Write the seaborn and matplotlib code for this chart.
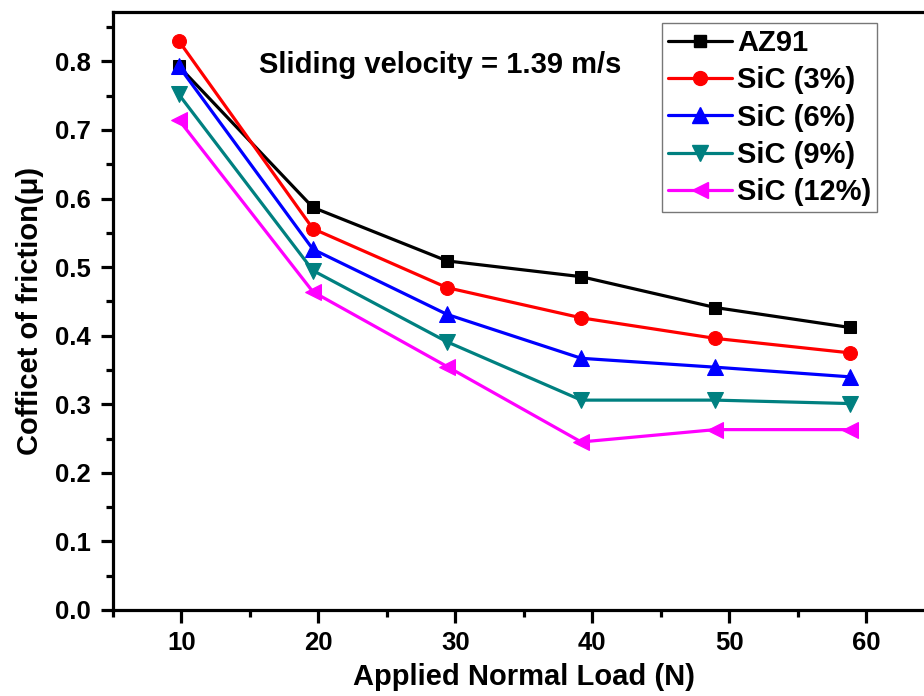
import matplotlib
matplotlib.use("Agg")
import matplotlib.pyplot as plt
import seaborn as sns
import pandas as pd
from matplotlib.ticker import MultipleLocator
from matplotlib.lines import Line2D

loads = [9.8, 19.6, 29.4, 39.2, 49.0, 58.8]
series_names = ["AZ91", "SiC (3%)", "SiC (6%)", "SiC (9%)", "SiC (12%)"]
az91 = [0.793, 0.587, 0.509, 0.486, 0.441, 0.412]
sic3 = [0.830, 0.556, 0.470, 0.426, 0.396, 0.375]
sic6 = [0.793, 0.526, 0.431, 0.367, 0.354, 0.340]
sic9 = [0.752, 0.495, 0.391, 0.306, 0.306, 0.301]
sic12 = [0.715, 0.464, 0.355, 0.245, 0.263, 0.263]
values = [az91, sic3, sic6, sic9, sic12]

colors = ["#000000", "#FF0000", "#0000FF", "#008080", "#FF00FF"]
marker_list = ["s", "o", "^", "v", "<"]
marker_sizes = [9, 10, 11, 11, 11]

rows = []
for name, vals in zip(series_names, values):
    for x, y in zip(loads, vals):
        rows.append({"load": x, "cof": y, "series": name})
df = pd.DataFrame(rows)

sns.set_style("ticks")
plt.rcParams["font.family"] = ["Liberation Sans", "DejaVu Sans"]
plt.rcParams["font.weight"] = "bold"
plt.rcParams["text.color"] = "black"
plt.rcParams["axes.labelcolor"] = "black"
plt.rcParams["xtick.color"] = "black"
plt.rcParams["ytick.color"] = "black"

fig = plt.figure(figsize=(9.24, 6.96), dpi=100)
ax = fig.add_axes([0.1223, 0.1236, 0.889, 0.8592])

for name, c, m, ms in zip(series_names, colors, marker_list, marker_sizes):
    sub = df[df["series"] == name]
    sns.lineplot(data=sub, x="load", y="cof", color=c, marker=m, markersize=ms,
                 markeredgecolor=c, linewidth=2.3, ax=ax, legend=False)

ax.set_xlim(5, 65)
ax.set_ylim(0, 0.872)
ax.xaxis.set_major_locator(MultipleLocator(10))
ax.xaxis.set_minor_locator(MultipleLocator(5))
ax.yaxis.set_major_locator(MultipleLocator(0.1))
ax.yaxis.set_minor_locator(MultipleLocator(0.05))
ax.yaxis.set_major_formatter(matplotlib.ticker.FormatStrFormatter("%.1f"))

for sp in ax.spines.values():
    sp.set_linewidth(2.3)
    sp.set_color("black")
ax.tick_params(which="major", direction="out", length=9, width=2.3,
               labelsize=18.5, colors="black")
ax.tick_params(axis="y", which="major", pad=7)
ax.tick_params(axis="x", which="major", pad=6)
ax.tick_params(which="minor", direction="out", length=5, width=2.3)
for lab in ax.get_xticklabels() + ax.get_yticklabels():
    lab.set_fontweight("bold")

ax.set_xlabel("Applied Normal Load (N)", fontsize=21, fontweight="bold", labelpad=6)
ax.set_ylabel("Cofficet of friction(\u03bc)", fontsize=21, fontweight="bold", labelpad=8)

ax.text(15.7, 0.783, "Sliding velocity = 1.39 m/s", fontsize=21, fontweight="bold",
        ha="left", va="baseline")

handles = [Line2D([0], [0], color=c, marker=m, markersize=ms, linewidth=2.3)
           for c, m, ms in zip(colors, marker_list, marker_sizes)]
leg = ax.legend(handles, series_names, loc="upper left",
                bbox_to_anchor=((662 - 111.4) / 13.72 / 60, (610 - 23) / 686 / 0.872),
                bbox_transform=ax.transAxes,
                prop={"size": 21, "weight": "bold"}, frameon=True, fancybox=False,
                edgecolor="#555555", handlelength=2.2, handletextpad=0.15,
                labelspacing=0.32, borderpad=0.2, borderaxespad=0)
leg.get_frame().set_linewidth(1.0)

fig.savefig("out.png", dpi=100)
